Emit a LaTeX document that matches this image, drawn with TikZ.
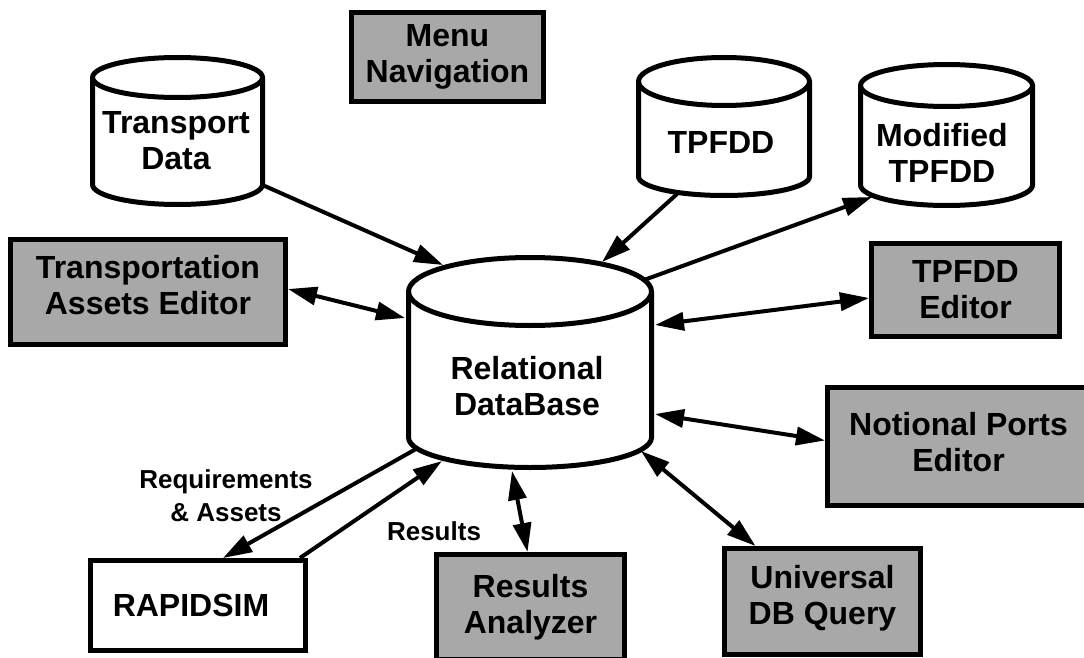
\documentclass[tikz,border=0pt]{standalone}
\usepackage{fontspec}
\setmainfont{Liberation Sans}
\usetikzlibrary{arrows.meta,calc}
\definecolor{shadegray}{gray}{0.66}
\newcommand\DiagFont{\fontsize{32}{36}\selectfont\bfseries}
\newcommand\LabFont{\fontsize{26}{33}\selectfont\bfseries}
% cylinder outline: cx, top-ellipse cy, bottom-arc cy, rx, ry top, ry bottom
\newcommand\CylOutline[6]{%
  \draw[cylline] (#1-#4,#2) -- (#1-#4,#3)
     arc[start angle=180,end angle=360,x radius=#4pt,y radius=#6pt] -- (#1+#4,#2);
  \draw[cylline] (#1,#2) ellipse[x radius=#4pt,y radius=#5pt];
}
\begin{document}
\begin{tikzpicture}[x=1pt,y=-1pt,
  boxline/.style={draw=black,line width=5pt},
  shadebox/.style={boxline,fill=shadegray,inner sep=0pt,align=center,font=\DiagFont},
  plainbox/.style={boxline,fill=white,inner sep=0pt,align=center,font=\DiagFont},
  cyltext/.style={inner sep=0pt,align=center,font=\DiagFont},
  cylline/.style={draw=black,line width=5pt,line join=round},
  lab/.style={inner sep=0pt,align=center,font=\LabFont},
  tip/.tip={Triangle[length=29pt,width=18pt]},
  conn/.style={draw=black,line width=4pt,-tip},
  conntwo/.style={draw=black,line width=4pt,tip-tip},
]
\useasboundingbox (0,0) rectangle (1084,658);
\fill[white] (0,0) rectangle (1084,658);

% cylinders
\CylOutline{177.5}{77.5}{184.5}{85}{20}{20}
\CylOutline{724}{81.5}{176.5}{85.5}{24}{19}
\CylOutline{946.5}{85.5}{185}{86}{21}{20.5}
\CylOutline{530}{291.5}{437.5}{121.5}{34}{30}

\node[cyltext] (td)  at (176,141) {Transport\\Data};
\node[cyltext] (tp)  at (721,142) {TPFDD};
\node[cyltext] (mt)  at (942,153) {Modified\\TPFDD};
\node[cyltext] (rdb) at (527,386) {Relational\\DataBase};

% boxes
\node[shadebox,minimum width=192pt,minimum height=89pt]  (menu) at (447.5,57)  {Menu\\Navigation};
\node[shadebox,minimum width=275pt,minimum height=105pt,text depth=14pt] (tae) at (148,292)
   {Transportation\\Assets Editor};
\node[shadebox,minimum width=188pt,minimum height=93pt]  (tpe)  at (965.5,290) {TPFDD\\Editor};
\node[shadebox,minimum width=292pt,minimum height=118pt,text depth=10pt] (npe) at (973.5,446.5)
   {\hspace*{-30pt}Notional Ports\\\hspace*{-30pt}Editor};
\node[plainbox,minimum width=215pt,minimum height=90pt]  (rap)  at (198,605.5) {\hspace*{-14pt}RAPIDSIM};
\node[shadebox,minimum width=188pt,minimum height=105pt] (ra)   at (530.5,607) {Results\\Analyzer};
\node[shadebox,minimum width=196pt,minimum height=106pt,text depth=13pt] (udb) at (822.5,601.5)
   {Universal\\DB Query};

% labels
\node[lab] (lreq) at (226,496) {Requirements\\\& Assets};
\node[lab] (lres) at (434,531) {Results};

% attachment points on the cylinder outlines
\coordinate (tdOut) at (262.5,185);
\coordinate (tpOut) at (677,194);
\coordinate (mtIn)  at (872,197);
\coordinate (rdbA) at (443,265);
\coordinate (rdbB) at (602,262);
\coordinate (rdbC) at (644,280);
\coordinate (rdbD) at (405,318);
\coordinate (rdbE) at (655,325);
\coordinate (rdbF) at (655,414);
\coordinate (rdbG) at (416,449);
\coordinate (rdbH) at (442,461);
\coordinate (rdbI) at (512,471);
\coordinate (rdbJ) at (641,451);

% connectors
\draw[conn] (tdOut) -- (rdbA);
\draw[conn] (tpOut) -- (rdbB);
\draw[conn] (rdbC) -- (mtIn);
\draw[conntwo] ($(tae.east)+(0,-3)$) -- (rdbD);
\draw[conntwo] (rdbE) -- ($(tpe.west)+(0,8)$);
\draw[conntwo] (rdbF) -- ($(npe.west)+(0,-6)$);
\draw[conn] (rdbG) -- ($(rap.north)+(25,0)$);
\draw[conn] ($(rap.north)+(102,0)$) -- (rdbH);
\draw[conntwo] (rdbI) -- ($(ra.north)+(-3,0)$);
\draw[conntwo] (rdbJ) -- ($(udb.north)+(-67,0)$);
\end{tikzpicture}
\end{document}
